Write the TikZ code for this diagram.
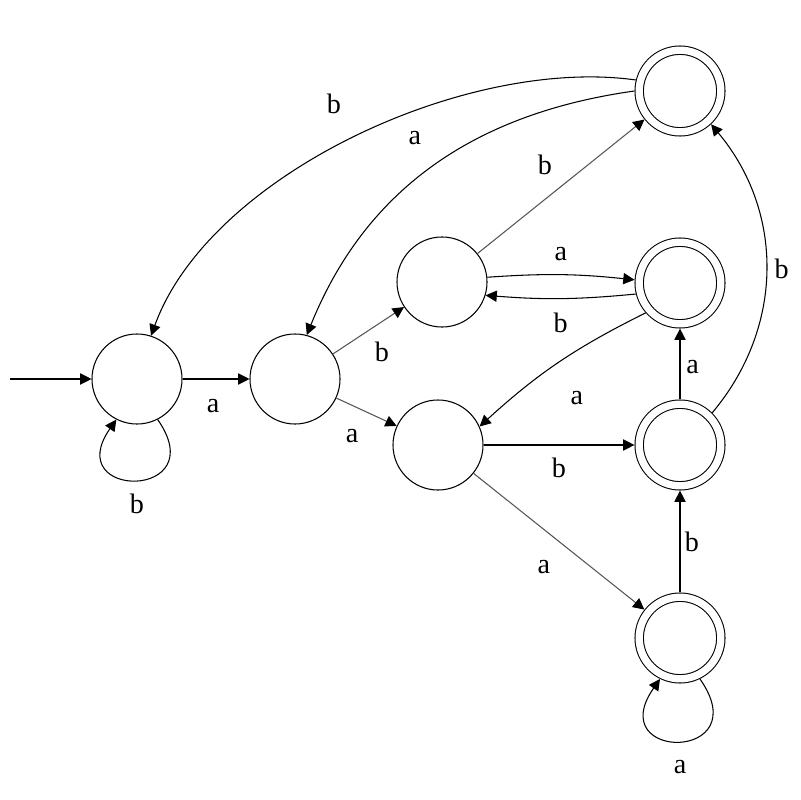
\documentclass[tikz,border=0pt]{standalone}
\usepackage{fontspec}
\setmainfont{Liberation Serif}
\usetikzlibrary{arrows.meta}
\definecolor{edgegray}{RGB}{85,85,85}
\tikzset{
    state/.style={draw, circle, line width=0.75pt, minimum size=2.25cm, inner sep=0pt},
    accept/.style={draw, circle, line width=0.75pt, double, double distance=5.2pt, minimum size=2.04cm, inner sep=0pt, outer sep=3.4pt},
    trans/.style={-{Triangle[length=8pt,width=8pt,color=black]}, line width=0.75pt, draw=black},
    gtrans/.style={trans, draw=edgegray},
    lbl/.style={font=\fontsize{20}{24}\selectfont, inner sep=1pt}
}

\begin{document}
\begin{tikzpicture}[x=0.025cm,y=-0.025cm]
\useasboundingbox (0,0) rectangle (800,800);
% states
\node[state] (q0) at (137,379) {};
\node[state] (q1) at (295,379) {};
\node[state] (q2) at (442,282) {};
\node[state] (q3) at (438,445) {};
\node[accept] (q4) at (680,91) {};
\node[accept] (q5) at (680,283) {};
\node[accept] (q6) at (680,445) {};
\node[accept] (q7) at (680,638) {};
\coordinate (start) at (10,379);
% transitions
\draw[trans] (start) -- (q0);
\draw[trans] (q0) -- node[lbl, xshift=-2pt, yshift=-19pt] {a} (q1);
\draw[trans] (q0.-63) to[out=-55, in=-125, looseness=6.1] node[lbl, yshift=-17pt] {b} (q0.-117);
\draw[gtrans] (q1) -- node[lbl, xshift=9.6pt, yshift=-15pt] {b} (q2);
\draw[gtrans] (q1) -- node[lbl, xshift=-10.3pt, yshift=-17.4pt] {a} (q3);
\draw[gtrans] (q2) -- node[lbl, xshift=-11.4pt, yshift=15.4pt] {b} (q4);
\draw[trans] (q2.6) to[bend left=5] node[lbl, yshift=15pt] {a} (q5.176);
\draw[trans] (q5.194) to[bend left=5] node[lbl, yshift=-17.4pt] {b} (q2.-17);
\draw[trans] (q5.221) to[bend right=8] node[lbl, xshift=13.5pt, yshift=-25pt] {a} (q3.24);
\draw[trans] (q3) -- node[lbl, yshift=-16.4pt] {b} (q6);
\draw[gtrans] (q3) -- node[lbl, xshift=-10.7pt, yshift=-18pt] {a} (q7);
\draw[trans] (q6) -- node[lbl, xshift=9pt, yshift=-2pt] {a} (q5);
\draw[trans] (q7) -- node[lbl, xshift=8.5pt] {b} (q6);
\draw[trans] (q6.45) to[out=50, in=-50] node[lbl, xshift=11pt] {b} (q4.-47);
\draw[trans] (q4.180) to[out=188, in=68] node[lbl, xshift=-13.5pt, yshift=20pt] {a} (q1.75);
\draw[trans] (q4.166) to[out=172, in=70, looseness=0.8] node[lbl, xshift=-12.8pt, yshift=25pt] {b} (q0.72);
\draw[trans] (q7.-64) to[out=-55, in=-125, looseness=6.5] node[lbl, yshift=-18.5pt] {a} (q7.-116);
\end{tikzpicture}
\end{document}
